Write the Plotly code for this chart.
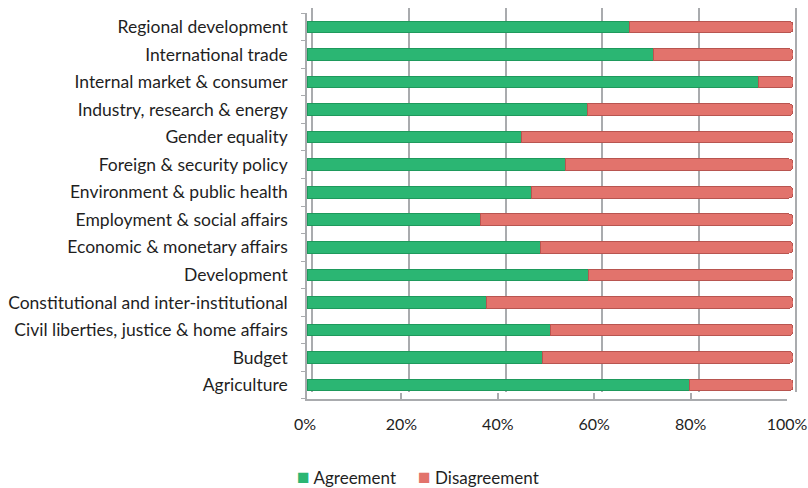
import plotly.graph_objects as go

# Policy areas, top to bottom
categories = [
    "Regional development",
    "International trade",
    "Internal market & consumer",
    "Industry, research & energy",
    "Gender equality",
    "Foreign & security policy",
    "Environment & public health",
    "Employment & social affairs",
    "Economic & monetary affairs",
    "Development",
    "Constitutional and inter-institutional",
    "Civil liberties, justice & home affairs",
    "Budget",
    "Agriculture",
]

# Share of agreement per policy area (%)
agreement = [66.3, 71.3, 92.9, 57.8, 44.2, 53.1, 46.1, 35.8, 48.1, 58.0, 37.0, 50.0, 48.5, 78.7]
disagreement = [100 - a for a in agreement]

series_names = ["Agreement", "Disagreement"]
tick_vals = [0, 20, 40, 60, 80, 100]
tick_text = ["0%", "20%", "40%", "60%", "80%", "100%"]

GREEN = "#2bb673"
RED = "#e2736c"
GRID = "#a9abae"
FONT = "Lato"
FSIZE = 17.5
TXT = "#1f1f1f"

# plot area in pixels: x 300..804, y 6..408
L, R, T, B = 300, 4, 6, 80
W, H = 808 - L - R, 488 - T - B


def xd(a, b):
    return [(a - L) / W, (b - L) / W]


def yd(top, bottom):
    return [(T + H - bottom) / H, (T + H - top) / H]


def px_x(p):
    return (p - L) / W


def px_y(p):
    return (T + H - p) / H


fig = go.Figure()

# back wall: gridlines slightly offset to give depth (drawn first, below bars)
fig.add_trace(go.Scatter(x=[None], y=[None], xaxis="x", yaxis="y",
                         showlegend=False, hoverinfo="skip"))

fig.add_trace(go.Bar(
    y=categories, x=agreement, name=series_names[0], orientation="h",
    marker=dict(color=GREEN, line=dict(color="#1e9a5c", width=1)),
    width=0.42, xaxis="x2", yaxis="y2", showlegend=False,
))
fig.add_trace(go.Bar(
    y=categories, x=disagreement, name=series_names[1], orientation="h",
    marker=dict(color=RED, line=dict(color="#b85550", width=1)),
    width=0.42, xaxis="x2", yaxis="y2", showlegend=False,
))

# front floor axis carrying the percentage labels
fig.add_trace(go.Scatter(x=[None], y=[None], xaxis="x3", yaxis="y2",
                         showlegend=False, hoverinfo="skip"))

unit = (796 - 312) / 100.0

# legend drawn as a compact row of coloured squares and series names
legend_items = [(series_names[0], GREEN, 295), (series_names[1], RED, 416)]
annotations = []
for name, col, left in legend_items:
    annotations.append(dict(
        xref="paper", yref="paper", x=px_x(left), y=px_y(476),
        xanchor="left", yanchor="middle", showarrow=False,
        text=f"<span style='color:{col};font-size:21px'>■</span> {name}",
        font=dict(family=FONT, size=17, color=TXT),
    ))

fig.update_layout(
    width=808, height=488,
    margin=dict(l=L, r=R, t=T, b=B, autoexpand=False),
    barmode="stack",
    barcornerradius=4,
    paper_bgcolor="white", plot_bgcolor="rgba(0,0,0,0)",
    font=dict(family=FONT, size=FSIZE, color=TXT),
    showlegend=False,
    annotations=annotations,
    # back wall grid
    xaxis=dict(domain=xd(312 - unit, 796 + unit), range=[-1, 101],
               anchor="y", tickvals=tick_vals, showticklabels=False,
               showgrid=True, gridcolor=GRID, gridwidth=2,
               zeroline=False, showline=False, ticks=""),
    yaxis=dict(domain=yd(8, 392), range=[0, 1], anchor="x",
               showgrid=False, showticklabels=False,
               zeroline=False, showline=False),
    # bars and category labels
    xaxis2=dict(domain=xd(307, 793), range=[0, 100], anchor="y2",
                showgrid=False, showticklabels=False, zeroline=False,
                showline=False),
    yaxis2=dict(domain=yd(13.25, 398.75), anchor="x2",
                categoryorder="array", categoryarray=categories[::-1],
                showgrid=False, showline=True, linecolor=GRID, linewidth=1.5,
                ticks="outside", tickson="boundaries", ticklen=4,
                tickcolor=GRID, ticklabelstandoff=14,
                tickfont=dict(family=FONT, size=FSIZE, color=TXT)),
    # front axis with percentage labels
    xaxis3=dict(domain=xd(305, 787), range=[0, 100],
                anchor="free", position=px_y(400),
                tickvals=tick_vals, ticktext=tick_text,
                ticklabeloverflow="allow",
                showgrid=False, zeroline=False,
                showline=True, linecolor=GRID, linewidth=1.5,
                ticks="inside", ticklen=6, tickcolor=GRID, tickwidth=1.5,
                ticklabelstandoff=10,
                tickfont=dict(family=FONT, size=16, color=TXT)),
)

fig.write_html("out.html")
